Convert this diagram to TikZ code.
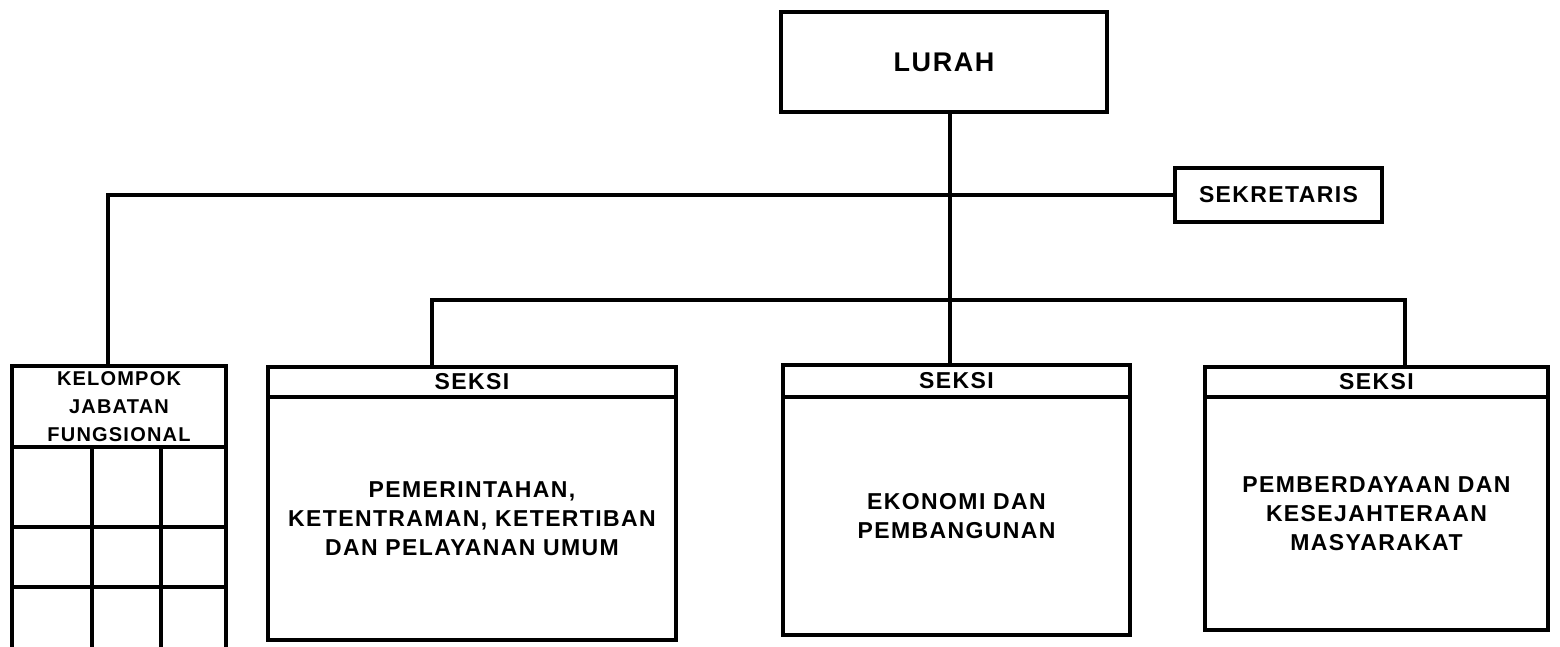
\documentclass[tikz,border=0pt]{standalone}
\usepackage{fontspec}
\setmainfont{Liberation Sans}[LetterSpace=6]
\begin{document}
\begin{tikzpicture}[x=1pt,y=-1pt,
  box/.style={draw, line width=3.5pt, inner sep=0pt, outer sep=0pt, anchor=north west},
  conn/.style={line width=3.2pt},
  bigtxt/.style={font=\bfseries\fontsize{27}{32}\selectfont},
  midtxt/.style={font=\bfseries\fontsize{23}{29}\selectfont, align=center},
  smltxt/.style={font=\bfseries\fontsize{20}{28}\selectfont, align=center}]
\useasboundingbox (0,0) rectangle (1560,646);
% LURAH
\node[box, minimum width=326, minimum height=100, bigtxt] (lurah) at (781,12) {LURAH};
% SEKRETARIS
\node[box, minimum width=207, minimum height=54, midtxt] (sek) at (1175,168) {SEKRETARIS};
% KELOMPOK JABATAN FUNGSIONAL
\node[box, minimum width=214, minimum height=81, smltxt] (kelh) at (12,366) {KELOMPOK\\JABATAN\\FUNGSIONAL};
\draw[line width=3.5pt] (kelh.south west) -- (12,650)
  (kelh.south east) -- (226,650)
  (kelh.south west -| 92,0) -- (92,650)
  (kelh.south west -| 161,0) -- (161,650)
  (12,527) -- (226,527)
  (12,587) -- (226,587);
% SEKSI 1
\node[box, minimum width=408, minimum height=30, midtxt] (s1h) at (268,367) {SEKSI};
\node[box, minimum width=408, minimum height=243, midtxt] (s1) at (s1h.south west) {PEMERINTAHAN,\\KETENTRAMAN, KETERTIBAN\\DAN PELAYANAN UMUM};
% SEKSI 2
\node[box, minimum width=347, minimum height=32, midtxt] (s2h) at (783,365) {SEKSI};
\node[box, minimum width=347, minimum height=238, midtxt] (s2) at (s2h.south west) {EKONOMI DAN\\PEMBANGUNAN};
% SEKSI 3
\node[box, minimum width=343, minimum height=30, midtxt] (s3h) at (1205,367) {SEKSI};
\node[box, minimum width=343, minimum height=233, midtxt] (s3) at (s3h.south west) {PEMBERDAYAAN DAN\\KESEJAHTERAAN\\MASYARAKAT};
% connectors
\coordinate (kx) at (108,0);
\coordinate (c1) at (432,0);
\coordinate (c3) at (1405,0);
\coordinate (bus) at (950,300);
\draw[conn] (lurah.south -| bus) -- (bus |- s2h.north);
\draw[conn] (sek.west) -- (sek.west -| kx) -- (kx |- kelh.north);
\draw[conn] (c1 |- s1h.north) |- (bus) -| (c3 |- s3h.north);
\end{tikzpicture}
\end{document}
